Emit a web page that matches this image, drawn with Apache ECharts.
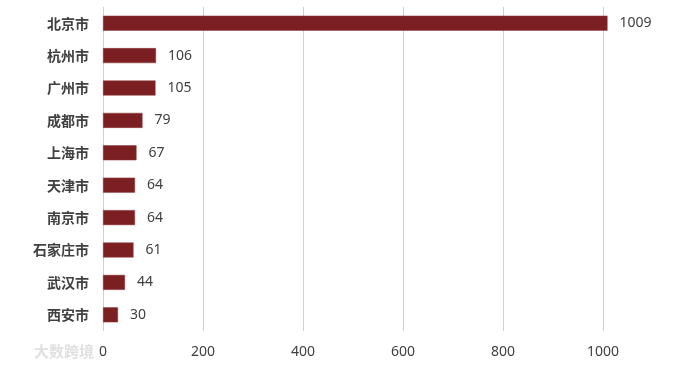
<!DOCTYPE html>
<html><head><meta charset="utf-8">
<script src="https://cdn.jsdelivr.net/npm/echarts@6/dist/echarts.min.js"></script>
<style>html,body{margin:0;padding:0;background:#fff;overflow:hidden;width:679px;height:372px}#c{width:740px;height:372px}</style>
</head><body><div id="c"></div>
<script>
const categories = ['北京市','杭州市','广州市','成都市','上海市','天津市','南京市','石家庄市','武汉市','西安市'];
const values = [1009,106,105,79,67,64,64,61,44,30];
const xTicks = [0,200,400,600,800,1000,1200];

const chart = echarts.init(document.getElementById('c'));
chart.setOption({
  animation:false,
  grid:{left:103,width:600,top:7,height:324,containLabel:false},
  xAxis:{type:'value',min:xTicks[0],max:xTicks[xTicks.length-1],interval:200,
    axisLine:{show:false},axisTick:{show:false},
    axisLabel:{color:'#404040',fontSize:14,fontFamily:'Noto Sans, sans-serif',margin:14,
      formatter:v=>String(v)},
    splitLine:{lineStyle:{color:'#d0d0d0',width:1}}},
  yAxis:{type:'category',data:categories,inverse:true,
    axisLine:{show:false},axisTick:{show:false},
    axisLabel:{color:'#404040',fontSize:14,fontWeight:'bold',fontFamily:'Noto Sans CJK SC, sans-serif',margin:14}},
  series:[{type:'bar',data:values,barWidth:15,
    itemStyle:{color:'#7b1f23',borderColor:'#8e3a3d',borderWidth:0.5},
    label:{show:true,position:'right',distance:12,color:'#404040',fontSize:14,fontFamily:'Noto Sans, sans-serif'}}],
  graphic:[{type:'text',left:34,top:344,style:{text:'大数跨境',fill:'#e0e0e0',font:'bold 15px "Noto Sans CJK SC"'}}]
});
</script></body></html>
